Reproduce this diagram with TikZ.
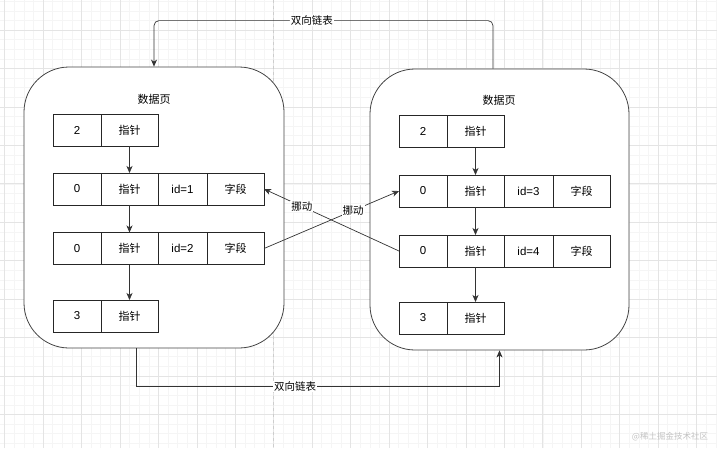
\documentclass[tikz,border=0pt]{standalone}
\usepackage{fontspec}
\setmainfont{Liberation Sans}
\newfontfamily\cjk{Noto Sans CJK SC}
\usepackage{tikz}
\usetikzlibrary{arrows.meta,positioning}
\definecolor{pgLine}{HTML}{444444}
\definecolor{gridMinor}{HTML}{F5F5F5}
\definecolor{gridMajor}{HTML}{E4E4E4}
\definecolor{gridBreak}{HTML}{CDCDCD}
\definecolor{wmGray}{HTML}{C2C2C2}
\tikzset{
  cell/.style={draw=black!85, line width=0.7pt, minimum width=#1, minimum height=32pt,
    inner sep=0pt, outer sep=0pt, font=\fontsize{11.5}{13}\selectfont},
  cell/.default={48pt},
  page/.style={draw=pgLine, line width=0.8pt, rounded corners=45pt, fill=white},
  lbl/.style={font=\cjk\fontsize{10.5}{12}\selectfont, fill=white, inner sep=1pt},
}

\begin{document}
\begin{tikzpicture}[x=1pt, y=-1pt,
  link/.style={draw=black!80, line width=0.7pt, -{Stealth[length=7pt,width=6pt,inset=2pt]}},
  title/.style={font=\cjk\fontsize{11}{13}\selectfont},
  zh/.style={font=\cjk\fontsize{11}{13}\selectfont}]
\useasboundingbox (0,0) rectangle (717,448);
% draw.io background grid
\foreach \k in {0,...,74} \draw[gridMinor, line width=0.5pt] ({4.6+9.61*\k},0) -- ++(0,448);
\foreach \k in {0,...,46} \draw[gridMinor, line width=0.5pt] (0,{1.17+9.61*\k}) -- ++(717,0);
\foreach \k in {0,...,18} \draw[gridMajor, line width=0.6pt] ({4.6+38.44*\k},0) -- ++(0,448);
\foreach \k in {1,...,11} \draw[gridMajor, line width=0.6pt] (0,{38.44*\k-8.44}) -- ++(717,0);
\draw[gridBreak, line width=0.6pt, dash pattern=on 3pt off 3pt] (273.7,0) -- (273.7,448);

\node[page, minimum width=260pt, minimum height=281pt] (Lpage) at (154,207.5) {};
\node[page, minimum width=259pt, minimum height=281pt] (Rpage) at (499.5,209.5) {};
\node[title] (Ltitle) at (154,99) {数据页};
\node[title] (Rtitle) at (499,100) {数据页};

\foreach \pg/\xo/\ya/\yb/\yc/\yd/\ia/\ib in {L/53/130/189/248.5/316/1/2, R/399/131.5/191/251/318/3/4}{
  \node[cell, anchor=west] (\pg1a) at (\xo,\ya) {2};
  \node[cell=57pt, zh, right=0pt of \pg1a] (\pg1b) {指针};
  \node[cell, anchor=west] (\pg2a) at (\xo,\yb) {0};
  \node[cell=57pt, zh, right=0pt of \pg2a] (\pg2b) {指针};
  \node[cell=49pt, right=0pt of \pg2b] (\pg2c) {id=\ia};
  \node[cell=57pt, zh, right=0pt of \pg2c] (\pg2d) {字段};
  \node[cell, anchor=west] (\pg3a) at (\xo,\yc) {0};
  \node[cell=57pt, zh, right=0pt of \pg3a] (\pg3b) {指针};
  \node[cell=49pt, right=0pt of \pg3b] (\pg3c) {id=\ib};
  \node[cell=57pt, zh, right=0pt of \pg3c] (\pg3d) {字段};
  \node[cell, anchor=west] (\pg4a) at (\xo,\yd) {3};
  \node[cell=57pt, zh, right=0pt of \pg4a] (\pg4b) {指针};
  \draw[link] (\pg1b.south) -- (\pg2b.north);
  \draw[link] (\pg2b.south) -- (\pg3b.north);
  \draw[link] (\pg3b.south) -- (\pg4b.north);
}

\draw[link, rounded corners=5pt] ([xshift=-6.5pt]Rpage.north) -- ++(0,-48) -| (Lpage.north)
  node[lbl, pos=0.267] {双向链表};
\draw[link] ([xshift=-18pt]Lpage.south) -- ++(0,38) -| (Rpage.south)
  node[lbl, pos=0.219] {双向链表};
\draw[link] (R3a.west) -- (L2d.east) node[lbl, pos=0.72] {挪动};
\draw[link] (L3d.east) -- (R2a.west) node[lbl, pos=0.66] {挪动};

\node[font=\cjk\fontsize{8.5}{10}\selectfont, text=wmGray] (mark) at (670,437) {@稀土掘金技术社区};
\end{tikzpicture}
\end{document}
